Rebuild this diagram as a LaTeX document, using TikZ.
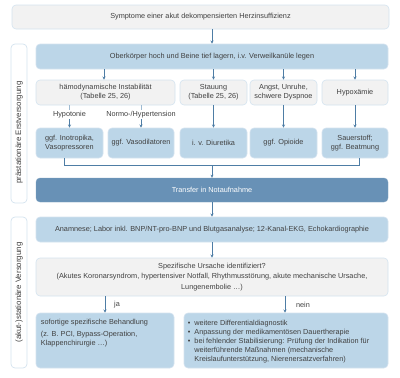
\documentclass[tikz,border=0pt]{standalone}
\usepackage{fontspec}
\setmainfont{Liberation Sans}
\usetikzlibrary{arrows.meta}
\definecolor{txt}{HTML}{404040}
\definecolor{lblue}{HTML}{BCD6E8}
\definecolor{lborder}{HTML}{D4E3EF}
\definecolor{gfill}{HTML}{F2F2F2}
\definecolor{dblue}{HTML}{6891B6}
\definecolor{arr}{HTML}{4E7DA5}
\tikzset{
  base/.style={rounded corners=4pt, inner sep=1pt, align=center, text=txt,
    font=\fontsize{7.3}{9}\selectfont},
  greybox/.style={base, fill=gfill, draw=lborder, line width=0.6pt},
  bluebox/.style={base, fill=lblue, draw=lborder, line width=0.6pt},
  darkbox/.style={base, fill=dblue, draw=dblue!85!white, text=white},
  sidebox/.style={rounded corners=4pt, fill=white, draw=lborder, line width=0.7pt},
  sidelabel/.style={rotate=90, text=txt, font=\fontsize{7.9}{9}\selectfont},
  lbl/.style={text=txt, font=\fontsize{7.3}{9}\selectfont, inner sep=1pt},
  conn/.style={draw=arr, line width=0.55pt},
  arrowc/.style={conn, -{Stealth[length=3.2pt,width=3pt]}},
  plainc/.style={draw=lborder!60!arr, line width=0.55pt}
}
\begin{document}
\begin{tikzpicture}[x=1pt,y=-1pt]
\useasboundingbox (0,0) rectangle (400,378);
% side boxes
\node[sidebox, minimum width=16pt, minimum height=159pt] (s1) at (19,123.5) {};
\node[sidelabel] (s1t) at ([yshift=-9pt]s1.center) {prästationäre Erstversorgung};
\node[sidebox, minimum width=16pt, minimum height=151pt] (s2) at (19,292.5) {};
\node[sidelabel] (s2t) at (s2.center) {(akut-)stationäre Versorgung};
% top
\node[greybox, minimum width=377pt, minimum height=24pt] (top) at (200.5,17) {Symptome einer akut dekompensierten Herzinsuffizienz};
\node[bluebox, minimum width=352pt, minimum height=25pt] (ober) at (212,56.5) {Oberkörper hoch und Beine tief lagern, i.v. Verweilkanüle legen};
% grey row
\node[greybox, minimum width=139pt, minimum height=25pt] (g1) at (105.5,92.5) {hämodynamische Instabilität\\(Tabelle 25, 26)};
\node[greybox, minimum width=67pt, minimum height=25pt] (g2) at (213.5,92.5) {Stauung\\(Tabelle 25, 26)};
\node[greybox, minimum width=67pt, minimum height=25pt] (g3) at (283.5,92.5) {Angst, Unruhe,\\schwere Dyspnoe};
\node[greybox, minimum width=66pt, minimum height=25pt] (g4) at (355,92.5) {Hypoxämie};
% labels
\node[lbl] (hypo) at (69.5,114.5) {Hypotonie};
\node[lbl] (normo) at (141,114.5) {Normo-/Hypertension};
% blue row
\node[bluebox, minimum width=67pt, minimum height=30pt] (b1) at (69.5,143) {ggf. Inotropika,\\Vasopressoren};
\node[bluebox, minimum width=66pt, minimum height=30pt] (b2) at (141,143) {ggf. Vasodilatoren};
\node[bluebox, minimum width=67pt, minimum height=30pt] (b3) at (213.5,143) {i. v. Diuretika};
\node[bluebox, minimum width=67pt, minimum height=30pt] (b4) at (283.5,143) {ggf. Opioide};
\node[bluebox, minimum width=66pt, minimum height=30pt] (b5) at (355,143) {Sauerstoff;\\ggf. Beatmung};
% transfer
\node[darkbox, minimum width=352pt, minimum height=24pt] (trans) at (212,190) {Transfer in Notaufnahme};
\node[bluebox, minimum width=352pt, minimum height=25pt] (anam) at (212,229.5) {Anamnese; Labor inkl. BNP/NT-pro-BNP und Blutgasanalyse; 12-Kanal-EKG, Echokardiographie};
\node[greybox, minimum width=352pt, minimum height=38pt] (spez) at (212,277) {Spezifische Ursache identifiziert?\\[1.5pt](Akutes Koronarsyndrom, hypertensiver Notfall, Rhythmusstörung, akute mechanische Ursache,\\[1.5pt]Lungenembolie \dots)};
% bottom boxes
\node[bluebox, minimum width=138pt, minimum height=55pt] (lb) at (105,340.5) {};
\node[lbl, anchor=north west, align=left] (lbt) at ([shift={(4,5)}]lb.north west) {sofortige spezifische Behandlung\\[3pt](z. B. PCI, Bypass-Operation,\\Klappenchirurgie \dots)};
\node[bluebox, minimum width=204pt, minimum height=55pt] (rb) at (286,340.5) {};
\node[lbl, anchor=north west, align=left, font=\fontsize{7.3}{9}\selectfont] (rbt) at ([shift={(3,5)}]rb.north west) {%
\begin{tabular}{@{}l@{\hspace{4pt}}l@{}}
\textbullet & weitere Differentialdiagnostik\\
\textbullet & Anpassung der medikamentösen Dauertherapie\\
\textbullet & bei fehlender Stabilisierung: Prüfung der Indikation für\\
 & weiterführende Maßnahmen (mechanische\\
 & Kreislaufunterstützung, Nierenersatzverfahren)
\end{tabular}};
% connectors
\draw[arrowc] (top.south -| ober.north) -- (ober.north);
\draw[arrowc] (ober.south -| 104,0) -- (g1.north -| 104,0);
\draw[arrowc] (ober.south -| g2.north) -- (g2.north);
\draw[arrowc] (ober.south -| g3.north) -- (g3.north);
\draw[arrowc] (ober.south -| g4.north) -- (g4.north);
\draw[plainc] (g1.south -| hypo.north) -- (hypo.north);
\draw[plainc] (g1.south -| normo.north) -- (normo.north);
\draw[arrowc] (hypo.south) -- (hypo.south |- b1.north);
\draw[arrowc] (normo.south) -- (normo.south |- b2.north);
\draw[arrowc] (g2.south) -- (b3.north);
\draw[arrowc] (g3.south) -- (b4.north);
\draw[arrowc] (g4.south) -- (b5.north);
\coordinate (brl) at (64,165);
\coordinate (brr) at (359,165);
\coordinate (brm) at (212,165);
\draw[conn] (b1.south -| brl) -- (brl) -- (brr) -- (b5.south -| brr);
\draw[arrowc] (brm) -- (brm |- trans.north);
\draw[arrowc] (trans.south) -- (anam.north);
\draw[arrowc] (anam.south) -- (spez.north);
\coordinate (ja) at (105,0);
\coordinate (ne) at (285,0);
\draw[arrowc] (spez.south -| ja) -- (lb.north -| ja);
\draw[arrowc] (spez.south -| ne) -- (rb.north -| ne);
\node[lbl] (jat) at (117,305) {ja};
\node[lbl] (net) at (303,305) {nein};
\end{tikzpicture}
\end{document}
